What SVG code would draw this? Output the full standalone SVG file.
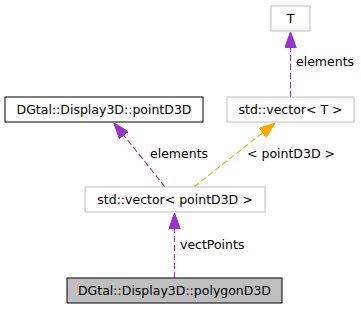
<svg xmlns="http://www.w3.org/2000/svg" width="361" height="309" viewBox="0 0 361 309">
  <style>
    text { font-family: "DejaVu Sans", "Liberation Sans", sans-serif; font-size: 12.5px; fill: #000; }
    .node text { text-anchor: middle; }
    .box { fill: #fff; stroke: #bfbfbf; stroke-width: 1; }
    .box.solid { stroke: #000; }
    .box.current { fill: #bfbfbf; stroke: #000; }
    .edge { fill: none; stroke-width: 1.1; stroke-dasharray: 6,3; }
    .purple { stroke: #9a32cd; }
    .orange { stroke: #ffa500; }
  </style>
  <defs>
    <marker id="headPurple" markerUnits="userSpaceOnUse" markerWidth="16" markerHeight="12" refX="14" refY="5" orient="auto" viewBox="0 0 14 10">
      <path d="M0,0 L14,5 L0,10 Z" fill="#9a32cd" stroke="#9a32cd"/>
    </marker>
    <marker id="headOrange" markerUnits="userSpaceOnUse" markerWidth="16" markerHeight="12" refX="14" refY="5" orient="auto" viewBox="0 0 14 10">
      <path d="M0,0 L14,5 L0,10 Z" fill="#ffa500" stroke="#ffa500"/>
    </marker>
  </defs>

  <g id="edges">
    <path class="edge purple" d="M290.5,97 L290.5,32" marker-end="url(#headPurple)"/>
    <text x="296" y="66">elements</text>
    <path class="edge purple" d="M165,187 L114,123" marker-end="url(#headPurple)"/>
    <text x="150" y="157.5">elements</text>
    <path class="edge orange" d="M194,187 L275,123" marker-end="url(#headOrange)"/>
    <text x="247" y="157.5">&lt; pointD3D &gt;</text>
    <path class="edge purple" d="M174.5,278 L174.5,213" marker-end="url(#headPurple)"/>
    <text x="180" y="249">vectPoints</text>
  </g>

  <g id="node-T" class="node">
    <rect class="box" x="271" y="6" width="39" height="25"/>
    <text x="290.5" y="23">T</text>
  </g>
  <g id="node-vectorT" class="node">
    <rect class="box" x="227" y="97" width="127" height="25"/>
    <text x="290.5" y="114">std::vector&lt; T &gt;</text>
  </g>
  <g id="node-pointD3D" class="node">
    <rect class="box solid" x="5" y="97" width="198" height="25"/>
    <text x="104" y="114">DGtal::Display3D::pointD3D</text>
  </g>
  <g id="node-vectorPoint" class="node">
    <rect class="box" x="85" y="187" width="180" height="25"/>
    <text x="175" y="204">std::vector&lt; pointD3D &gt;</text>
  </g>
  <g id="node-polygonD3D" class="node">
    <rect class="box current" x="67" y="278" width="215" height="25"/>
    <text x="174.5" y="295">DGtal::Display3D::polygonD3D</text>
  </g>
</svg>
